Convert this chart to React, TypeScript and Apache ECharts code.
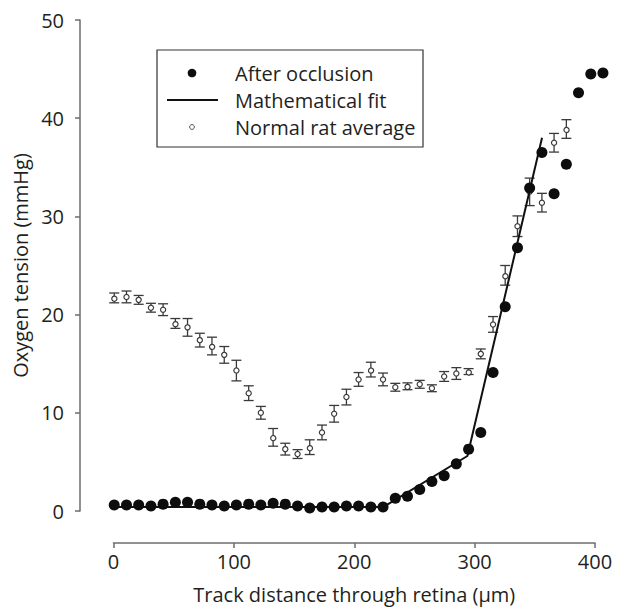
import React, { useEffect, useRef } from "react";
import * as echarts from "echarts";

const trackX = [
  0.6, 10.8, 20.9, 31.1, 41.2, 51.4, 61.5, 71.7, 81.8, 92.0, 102.1, 112.3, 122.4, 132.6,
  142.7, 152.9, 163.0, 173.2, 183.3, 193.5, 203.6, 213.8, 223.9, 234.1, 244.2, 254.4,
  264.5, 274.7, 284.8, 295.0, 305.1, 315.3, 325.4, 335.6, 345.7, 355.9, 366.0, 376.2,
  386.3, 396.5, 406.6,
];

// After occlusion (mmHg)
const occlusion = [
  0.6, 0.6, 0.6, 0.5, 0.7, 0.9, 0.9, 0.7, 0.6, 0.5, 0.6, 0.7, 0.6, 0.8, 0.7, 0.5, 0.3,
  0.4, 0.4, 0.5, 0.5, 0.4, 0.4, 1.3, 1.5, 2.2, 3.0, 3.6, 4.8, 6.3, 8.0, 14.1, 20.8, 26.8,
  32.9, 36.5, 32.3, 35.3, 42.6, 44.5, 44.6,
];

// Normal rat average (mmHg) and its error (±)
const normalMean = [
  21.7, 21.8, 21.5, 20.7, 20.5, 19.1, 18.7, 17.4, 16.8, 15.9, 14.3, 12.0, 10.0, 7.5, 6.3,
  5.8, 6.5, 8.0, 9.9, 11.6, 13.4, 14.4, 13.4, 12.6, 12.7, 12.9, 12.5, 13.7, 14.0, 14.2,
  16.0, 19.0, 24.0, 29.0, 32.5, 31.4, 37.5, 38.9,
];
const normalErr = [
  0.5, 0.6, 0.45, 0.45, 0.6, 0.5, 0.9, 0.7, 0.9, 0.85, 1.05, 0.75, 0.65, 0.9, 0.6, 0.45,
  0.75, 0.75, 0.85, 0.8, 0.7, 0.75, 0.65, 0.4, 0.35, 0.4, 0.35, 0.5, 0.6, 0.3, 0.5, 0.8,
  1.0, 1.05, 1.4, 0.95, 0.95, 0.95,
];

// Mathematical fit (knots)
const fitX = [0, 224, 294, 356];
const fitY = [0.4, 0.4, 5.6, 38];

const xTicks = [0, 400, 100];
const yTicks = [0, 50, 10];

const FONT = "'Open Sans', 'Noto Sans', sans-serif";
const TEXT = "#231f20";
const AXIS = "#6d6d6d";
const FS = 20;

export default function App() {
  const ref = useRef<HTMLDivElement>(null);

  useEffect(() => {
    document.body.style.margin = "0";
    const chart = echarts.init(ref.current!, null, { renderer: "svg" });

    const occData = trackX.map((x, i) => [x, occlusion[i]]);
    const normData = normalMean.map((m, i) => [trackX[i], m, normalErr[i]]);
    const fitData = fitX.map((x, i) => [x, fitY[i]]);

    chart.setOption({
      animation: false,
      backgroundColor: "#ffffff",
      grid: { left: 113.5, right: 26, top: 20, bottom: 100 },
      xAxis: {
        type: "value",
        min: xTicks[0],
        max: xTicks[1],
        interval: xTicks[2],
        offset: 32,
        name: "Track distance through retina (\u00b5m)",
        nameLocation: "middle",
        nameGap: 41,
        nameTextStyle: { fontFamily: FONT, fontSize: FS, color: TEXT },
        axisLine: { show: true, onZero: false, lineStyle: { color: AXIS, width: 1.5 } },
        axisTick: { show: true, length: 5, lineStyle: { color: AXIS, width: 1.5 } },
        axisLabel: { fontFamily: FONT, fontSize: FS, color: TEXT, margin: 8 },
        splitLine: { show: false },
      },
      yAxis: {
        type: "value",
        min: yTicks[0],
        max: yTicks[1],
        interval: yTicks[2],
        offset: 33.5,
        name: "Oxygen tension (mmHg)",
        nameLocation: "middle",
        nameRotate: 90,
        nameGap: 50,
        nameTextStyle: { fontFamily: FONT, fontSize: FS, color: TEXT },
        axisLine: { show: true, onZero: false, lineStyle: { color: AXIS, width: 1.5 } },
        axisTick: { show: true, length: 5, lineStyle: { color: AXIS, width: 1.5 } },
        axisLabel: { fontFamily: FONT, fontSize: FS, color: TEXT, margin: 16 },
        splitLine: { show: false },
      },
      series: [
        {
          name: "Normal rat average",
          type: "custom",
          clip: false,
          data: normData,
          renderItem: (params: any, api: any) => {
            const x = api.value(0);
            const y = api.value(1);
            const e = api.value(2);
            const c = api.coord([x, y]);
            const t = api.coord([x, y + e]);
            const b = api.coord([x, y - e]);
            const cap = 5;
            const ls = { stroke: "#3a3a3a", lineWidth: 1.3 };
            return {
              type: "group",
              children: [
                { type: "line", shape: { x1: c[0], y1: t[1], x2: c[0], y2: b[1] }, style: ls },
                { type: "line", shape: { x1: c[0] - cap, y1: t[1], x2: c[0] + cap, y2: t[1] }, style: ls },
                { type: "line", shape: { x1: c[0] - cap, y1: b[1], x2: c[0] + cap, y2: b[1] }, style: ls },
                {
                  type: "circle",
                  shape: { cx: c[0], cy: c[1], r: 2.6 },
                  style: { fill: "#ffffff", stroke: "#3a3a3a", lineWidth: 1.2 },
                },
              ],
            };
          },
          z: 2,
        },
        {
          name: "Mathematical fit",
          type: "line",
          data: fitData,
          showSymbol: false,
          symbol: "none",
          lineStyle: { color: "#111111", width: 2 },
          z: 3,
        },
        {
          name: "After occlusion",
          type: "scatter",
          clip: false,
          data: occData,
          symbol: "circle",
          symbolSize: 11,
          itemStyle: { color: "#0d0d0d", opacity: 1 },
          z: 4,
        },
      ],
      graphic: [
        {
          type: "rect",
          shape: { x: 157, y: 50, width: 266, height: 97 },
          style: { fill: "#ffffff", stroke: "#333333", lineWidth: 1.2 },
          z: 10,
        },
        {
          type: "circle",
          shape: { cx: 192, cy: 73, r: 4.3 },
          style: { fill: "#0d0d0d" },
          z: 11,
        },
        {
          type: "line",
          shape: { x1: 167, y1: 100, x2: 218, y2: 100 },
          style: { stroke: "#111111", lineWidth: 2 },
          z: 11,
        },
        {
          type: "circle",
          shape: { cx: 192, cy: 127, r: 2.4 },
          style: { fill: "#ffffff", stroke: "#555555", lineWidth: 1 },
          z: 11,
        },
        {
          type: "text",
          x: 235,
          y: 73,
          style: { text: "After occlusion", font: `${FS}px ${FONT}`, fill: TEXT, verticalAlign: "middle" },
          z: 11,
        },
        {
          type: "text",
          x: 235,
          y: 100,
          style: { text: "Mathematical fit", font: `${FS}px ${FONT}`, fill: TEXT, verticalAlign: "middle" },
          z: 11,
        },
        {
          type: "text",
          x: 235,
          y: 127,
          style: { text: "Normal rat average", font: `${FS}px ${FONT}`, fill: TEXT, verticalAlign: "middle" },
          z: 11,
        },
      ],
    });

    return () => chart.dispose();
  }, []);

  return <div ref={ref} style={{ width: 621, height: 611 }} />;
}
